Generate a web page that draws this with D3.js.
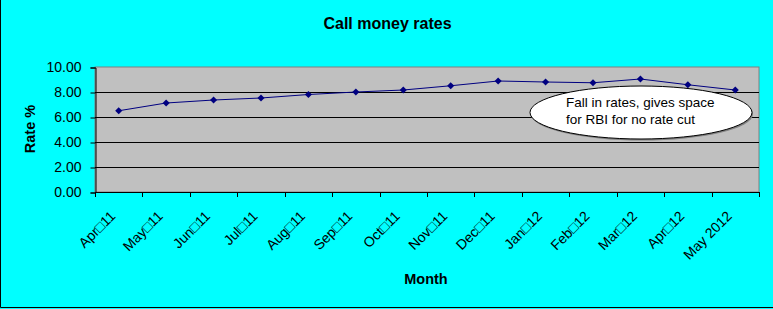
<!DOCTYPE html>
<html>
<head>
<meta charset="utf-8">
<script src="https://cdn.jsdelivr.net/npm/d3@7"></script>
<style>
  body { margin: 0; background: #00ffff; }
  svg text { font-family: Arial, "Liberation Sans", sans-serif; }
</style>
</head>
<body>
<svg id="chart"></svg>
<script>
// data
const months = ["Apr\u25A111", "May\u25A111", "Jun\u25A111", "Jul\u25A111", "Aug\u25A111", "Sep\u25A111",
    "Oct\u25A111", "Nov\u25A111", "Dec\u25A111", "Jan\u25A112", "Feb\u25A112", "Mar\u25A112", "Apr\u25A112", "May 2012"];
const rates = [6.50, 7.12, 7.36, 7.52, 7.80, 8.00, 8.16, 8.50, 8.88, 8.80, 8.74, 9.04, 8.58, 8.16];
const yTicks = [0, 2, 4, 6, 8, 10];
const note = ["Fall in rates, gives space", "for RBI for no rate cut"];

const width = 773, height = 309;
const plot = { left: 95, right: 759, top: 67, bottom: 192 };

const svg = d3.select("#chart")
    .attr("width", width)
    .attr("height", height);

svg.append("rect")
    .attr("width", width).attr("height", height)
    .attr("fill", "#00ffff");

// outer border (only left and bottom show in the crop)
svg.append("path")
    .attr("d", "M0.5,0 V" + (height - 1.5) + " H" + width)
    .attr("fill", "none").attr("stroke", "#000").attr("stroke-width", 1);

const x = d3.scaleBand()
    .domain(months)
    .range([plot.left, plot.right]);

const y = d3.scaleLinear()
    .domain([0, 10])
    .range([plot.bottom, plot.top]);

// plot area
svg.append("rect")
    .attr("x", plot.left).attr("y", plot.top)
    .attr("width", plot.right - plot.left).attr("height", plot.bottom - plot.top)
    .attr("fill", "#c0c0c0")
    .attr("stroke", "#808080");

// gridlines
svg.append("g")
    .selectAll("line")
    .data(yTicks.filter(d => d > 0 && d < 10))
    .enter().append("line")
    .attr("x1", plot.left).attr("x2", plot.right)
    .attr("y1", d => Math.round(y(d)) + 0.5).attr("y2", d => Math.round(y(d)) + 0.5)
    .attr("stroke", "#000");

// y axis
const yAxis = d3.axisLeft(y)
    .tickValues(yTicks)
    .tickFormat(d3.format(".2f"))
    .tickSize(5)
    .tickPadding(9);

const gy = svg.append("g")
    .attr("transform", "translate(" + (plot.left + 0.5) + ",0.5)")
    .call(yAxis);
gy.select(".domain").attr("stroke", "#000");
gy.selectAll("text").style("font-size", "14px").attr("fill", "#000");

// x axis, ticks between categories
const edges = months.map(m => x(m)).concat([plot.right]);
const gx = svg.append("g");
gx.append("line")
    .attr("x1", plot.left).attr("x2", plot.right)
    .attr("y1", plot.bottom + 0.5).attr("y2", plot.bottom + 0.5)
    .attr("stroke", "#000");
gx.selectAll(".tick")
    .data(edges)
    .enter().append("line")
    .attr("class", "tick")
    .attr("x1", d => Math.round(d) + 0.5).attr("x2", d => Math.round(d) + 0.5)
    .attr("y1", plot.bottom).attr("y2", plot.bottom + 5)
    .attr("stroke", "#000");

gx.selectAll(".label")
    .data(months)
    .enter().append("text")
    .attr("class", "label")
    .attr("text-anchor", "end")
    .style("font-size", "14px")
    .attr("transform", d => "translate(" + (x(d) + x.bandwidth() / 2 - 2.5) + "," + (plot.bottom + 25) + ") rotate(-45)")
    .text(d => d);

// series
const line = d3.line()
    .x((d, i) => x(months[i]) + x.bandwidth() / 2)
    .y(d => y(d));

svg.append("path")
    .datum(rates)
    .attr("d", line)
    .attr("fill", "none")
    .attr("stroke", "#000080")
    .attr("stroke-width", 1);

svg.selectAll(".pt")
    .data(rates)
    .enter().append("path")
    .attr("class", "pt")
    .attr("d", d3.symbol(d3.symbolDiamond2, 32))
    .attr("transform", (d, i) => "translate(" + (x(months[i]) + x.bandwidth() / 2) + "," + y(d) + ")")
    .attr("fill", "#000080");

// callout
svg.append("ellipse")
    .attr("cx", 642).attr("cy", 114)
    .attr("rx", 111).attr("ry", 26.5)
    .attr("fill", "#808080");
svg.append("ellipse")
    .attr("cx", 641).attr("cy", 112.5)
    .attr("rx", 111).attr("ry", 26.5)
    .attr("fill", "#fff")
    .attr("stroke", "#000");

svg.append("text")
    .style("font-size", "13.5px")
    .selectAll("tspan")
    .data(note)
    .enter().append("tspan")
    .attr("x", 566)
    .attr("y", (d, i) => 107 + i * 17)
    .text(d => d);

// titles
svg.append("text")
    .attr("x", 387.5).attr("y", 29)
    .attr("text-anchor", "middle")
    .style("font-size", "16px").style("font-weight", "bold")
    .text("Call money rates");

svg.append("text")
    .attr("x", 426).attr("y", 284)
    .attr("text-anchor", "middle")
    .style("font-size", "14.5px").style("font-weight", "bold")
    .text("Month");

svg.append("text")
    .attr("transform", "translate(35,129) rotate(-90)")
    .attr("text-anchor", "middle")
    .style("font-size", "14.5px").style("font-weight", "bold")
    .text("Rate %");
</script>
</body>
</html>
